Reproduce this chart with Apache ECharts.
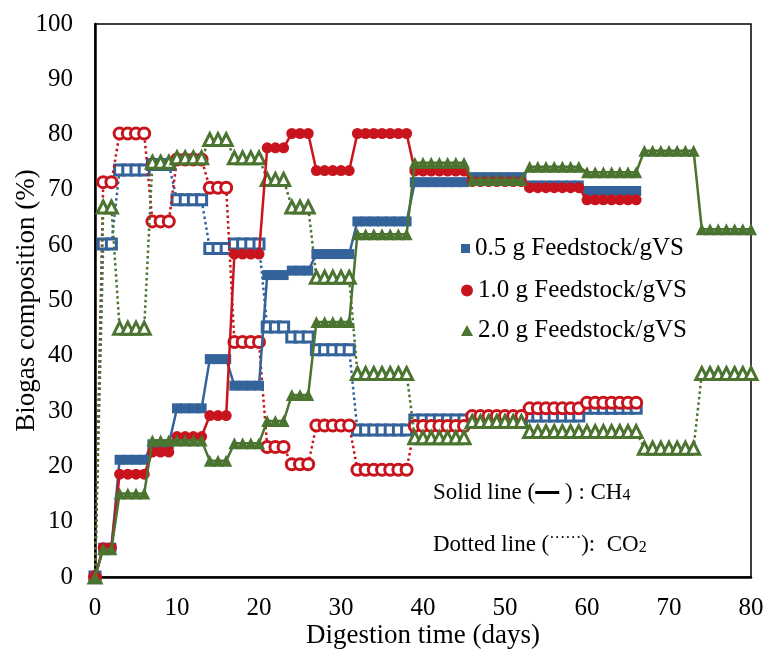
<!DOCTYPE html>
<html>
<head>
<meta charset="utf-8">
<script src="https://cdn.jsdelivr.net/npm/echarts@6/dist/echarts.min.js"></script>
<style>
  html, body { margin: 0; padding: 0; background: #ffffff; }
  #chart { width: 766px; height: 651px; }
</style>
</head>
<body>
<div id="chart"></div>
<script>
// Sampling periods (days): each reading is held until the next one is taken.
const periodStart = [0, 1, 3, 7, 10, 14, 17, 21, 24, 27, 32, 39, 46, 53, 60, 67, 74];
const periodEnd   = [0, 2, 6, 9, 13, 16, 20, 23, 26, 31, 38, 45, 52, 59, 66, 73, 80];

// CH4 content (%) per period
const ch4_05 = [0, 5.3, 21.2, 24.0, 30.5, 39.4, 34.6, 54.6, 55.4, 58.4, 64.3, 71.4, 72.3, 70.8, 69.8, null, null];
const ch4_10 = [0, 5.3, 18.6, 22.6, 25.4, 29.2, 58.4, 77.6, 80.2, 73.5, 80.2, 73.4, 71.5, 70.4, 68.2, null, null];
const ch4_20 = [0, 5.0, 15.1, 24.7, 24.7, 21.0, 24.2, 28.2, 32.9, 46.1, 62.0, 74.9, 71.8, 74.2, 73.2, 77.1, 62.9];

// CO2 content (%) per period
const co2_05 = [0, 60.2, 73.6, 74.6, 68.2, 59.4, 60.2, 45.2, 43.4, 41.1, 26.6, 28.4, 28.6, 29.1, 30.5, null, null];
const co2_10 = [0, 71.4, 80.2, 64.3, 75.5, 70.4, 42.5, 23.5, 20.4, 27.4, 19.4, 27.3, 29.1, 30.5, 31.5, null, null];
const co2_20 = [0, 66.9, 45.0, 75.0, 75.8, 79.1, 75.8, 71.9, 66.9, 54.2, 36.8, 25.2, 28.1, 26.3, 26.3, 23.3, 36.8];

const seriesNames = ['0.5 g Feedstock/gVS', '1.0 g Feedstock/gVS', '2.0 g Feedstock/gVS'];
const xTicks = [0, 10, 20, 30, 40, 50, 60, 70, 80];

const BLUE = '#33639A';
const RED = '#C8141C';
const GREEN = '#4A742F';
const FONT = 'Liberation Serif';

// one point per day, holding each period's reading
function daily(levels) {
  const pts = [];
  levels.forEach(function (v, i) {
    if (v === null) return;
    for (let d = periodStart[i]; d <= periodEnd[i]; d++) pts.push([d, v]);
  });
  return pts;
}

function ch4Series(name, levels, color, symbol, size, z) {
  return {
    name: name, type: 'line', data: daily(levels), symbol: symbol, symbolSize: size,
    showAllSymbol: true, clip: false, z: z,
    lineStyle: { color: color, width: 2.5 },
    itemStyle: { color: color, borderColor: color, borderWidth: 0 },
    emphasis: { disabled: true }
  };
}
function co2Series(name, levels, color, symbol, size, z) {
  return {
    name: name, type: 'line', data: daily(levels), symbol: symbol, symbolSize: size,
    showAllSymbol: true, clip: false, z: z,
    lineStyle: { color: color, width: 2.5, type: [2.5, 3] },
    itemStyle: { color: '#ffffff', borderColor: color, borderWidth: 3 },
    emphasis: { disabled: true }
  };
}

const chart = echarts.init(document.getElementById('chart'), null, { renderer: 'canvas' });

const legendBase = {
  orient: 'vertical', left: 456, selectedMode: false,
  itemGap: 0, itemWidth: 11, itemHeight: 11,
  textStyle: { fontFamily: FONT, fontSize: 25, color: '#000' }
};

chart.setOption({
  animation: false,
  backgroundColor: '#ffffff',
  grid: {
    left: 95, right: 15, top: 24, bottom: 74, containLabel: false, outerBoundsMode: 'none',
    show: true, borderColor: '#000', borderWidth: 1.5, backgroundColor: 'transparent'
  },
  xAxis: {
    type: 'value', min: 0, max: 80, interval: 10,
    axisLine: { show: true, onZero: false, lineStyle: { color: '#000', width: 2.5 } },
    axisTick: { show: false }, splitLine: { show: false },
    axisLabel: {
      fontFamily: FONT, fontSize: 25, color: '#000', margin: 19,
      formatter: function (v) { return xTicks.indexOf(v) >= 0 ? String(v) : ''; }
    },
    name: 'Digestion time (days)', nameLocation: 'middle', nameGap: 45, nameMoveOverlap: false,
    nameTextStyle: { fontFamily: FONT, fontSize: 27, color: '#000' }
  },
  yAxis: {
    type: 'value', min: 0, max: 100, interval: 10,
    axisLine: { show: true, lineStyle: { color: '#000', width: 2.5 } },
    axisTick: { show: false }, splitLine: { show: false },
    axisLabel: { fontFamily: FONT, fontSize: 25, color: '#000', margin: 22 },
    name: 'Biogas composition (%)', nameLocation: 'middle', nameGap: 55, nameMoveOverlap: false,
    nameTextStyle: { fontFamily: FONT, fontSize: 27, color: '#000' }
  },
  legend: [
    Object.assign({}, legendBase, { top: 231, itemWidth: 9, itemHeight: 9, data: [{ name: seriesNames[0], icon: 'rect' }] }),
    Object.assign({}, legendBase, { top: 273, itemWidth: 12, itemHeight: 12, data: [{ name: seriesNames[1], icon: 'circle' }] }),
    Object.assign({}, legendBase, { top: 313, itemWidth: 12, itemHeight: 11, data: [{ name: seriesNames[2], icon: 'triangle' }] })
  ],
  graphic: [
    {
      type: 'text', left: 433, top: 481,
      style: {
        text: '{t|Solid line (}{bar|}{t| ) : CH}{s|4}',
        rich: {
          t: { fontFamily: FONT, fontSize: 23, fill: '#000' },
          bar: { width: 24, height: 3, backgroundColor: '#000' },
          s: { fontFamily: FONT, fontSize: 16, fill: '#000', padding: [6, 0, 0, 0] }
        }
      }
    },
    {
      type: 'text', left: 433, top: 531,
      style: {
        text: '{t|Dotted line (}{dot|\u00b7\u00b7\u00b7\u00b7\u00b7\u00b7}{t|):  CO}{s|2}',
        rich: {
          t: { fontFamily: FONT, fontSize: 23, fill: '#000' },
          dot: { fontFamily: FONT, fontSize: 16, fill: '#000', padding: [0, 0, 12, 0] },
          s: { fontFamily: FONT, fontSize: 16, fill: '#000', padding: [6, 0, 0, 0] }
        }
      }
    }
  ],
  series: [
    co2Series('CO2 ' + seriesNames[0], co2_05, BLUE, 'rect', 10, 2),
    co2Series('CO2 ' + seriesNames[1], co2_10, RED, 'circle', 11, 3),
    co2Series('CO2 ' + seriesNames[2], co2_20, GREEN, 'triangle', 12, 4),
    ch4Series(seriesNames[0], ch4_05, BLUE, 'rect', 10, 5),
    ch4Series(seriesNames[1], ch4_10, RED, 'circle', 11, 6),
    ch4Series(seriesNames[2], ch4_20, GREEN, 'triangle', 12, 7)
  ]
});
</script>
</body>
</html>
